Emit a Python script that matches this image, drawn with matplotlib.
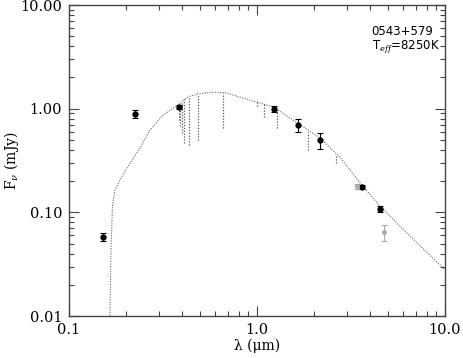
# -*- coding: utf-8 -*-
"""SED van 0543+579 met model en photometrie."""

import matplotlib
matplotlib.use("Agg")
import matplotlib.pyplot as plt
from matplotlib.ticker import LogLocator, NullFormatter

# modelspectrum (continuum), golflengte in micron, flux in mJy
model_lam = [0.1650, 0.1673, 0.1704, 0.1757, 0.1867, 0.2035, 0.2386, 0.2697,
             0.3162, 0.380, 0.4295, 0.4856, 0.5763, 0.6757, 0.918, 1.231,
             1.673, 2.164, 2.764, 3.618, 4.511, 6.513, 9.9]
model_flux = [0.009, 0.0433, 0.1176, 0.164, 0.205, 0.267, 0.417, 0.622,
              0.867, 1.083, 1.30, 1.39, 1.44, 1.43, 1.21, 1.036,
              0.710, 0.521, 0.341, 0.183, 0.115, 0.0591, 0.0285]

# absorptielijnen (Balmer, Paschen, Brackett): top en bodem van de lijn
lijn_lam = [0.3835, 0.3889, 0.3970, 0.4102, 0.4340, 0.4861, 0.6563,
            1.005, 1.094, 1.282, 1.875, 2.626]
lijn_top = [1.06, 1.10, 1.16, 1.23, 1.31, 1.39, 1.43,
            1.21, 1.12, 0.98, 0.60, 0.35]
lijn_bodem = [0.78, 0.68, 0.58, 0.466, 0.446, 0.498, 0.650,
              1.06, 0.83, 0.650, 0.399, 0.30]

# photometrie (zwart)
fot_lam = [0.152, 0.224, 0.385, 1.235, 1.66, 2.16, 3.62, 4.51]
fot_flux = [0.058, 0.887, 1.03, 0.99, 0.695, 0.498, 0.175, 0.108]
fot_err = [0.0054, 0.082, 0.046, 0.069, 0.099, 0.09, 0.008, 0.0075]

# photometrie (grijs)
grijs_lam = [3.40, 4.74]
grijs_flux = [0.179, 0.0646]
grijs_err = [0.010, 0.0117]

plt.rcParams['font.family'] = ['DejaVu Serif']
plt.rcParams['mathtext.fontset'] = 'dejavuserif'

fig = plt.figure(figsize=(4.63, 3.58), dpi=100)
ax = fig.add_axes([0.149, 0.1173, 0.812, 0.8687])

# model als stippellijn
ax.plot(model_lam, model_flux, color='#666666', ls=(0, (1, 1.3)), lw=0.8)
ax.vlines(lijn_lam, lijn_bodem, lijn_top, color='#555555',
          linestyles=(0, (1, 1.3)), lw=0.9)

# meetpunten
ax.errorbar(fot_lam, fot_flux, yerr=fot_err, fmt='o', color='black',
            ms=3.5, elinewidth=0.8, capsize=2.5, capthick=0.8)
ax.errorbar(grijs_lam, grijs_flux, yerr=grijs_err, fmt='o', color='#aaaaaa',
            ms=2.5, elinewidth=0.8, capsize=2.5, capthick=0.8)

ax.set_xscale('log')
ax.set_yscale('log')
ax.set_xlim(0.1, 10.0)
ax.set_ylim(0.01, 10.0)

ax.set_xticks([0.1, 1.0, 10.0], ['0.1', '1.0', '10.0'])
ax.set_yticks([0.01, 0.1, 1.0, 10.0], ['0.01', '0.10', '1.00', '10.00'])
ax.xaxis.set_minor_locator(LogLocator(base=10, subs=range(2, 10)))
ax.yaxis.set_minor_locator(LogLocator(base=10, subs=range(2, 10)))
ax.xaxis.set_minor_formatter(NullFormatter())
ax.yaxis.set_minor_formatter(NullFormatter())

ax.tick_params(which='both', direction='in', top=True, right=True,
               color='#444444', width=0.8, labelsize=10.5)
ax.tick_params(which='major', length=7, pad=5)
ax.tick_params(which='minor', length=3.5)
for s in ax.spines.values():
    s.set_color('#444444')
    s.set_linewidth(1.0)

ax.set_xlabel('\u03bb (\u03bcm)', fontsize=10, labelpad=1)
ax.set_ylabel(r'F$_{\nu}$ (mJy)', fontsize=10)
ax.yaxis.set_label_coords(-0.128, 0.5)

ax.text(0.805, 0.905, '0543+579', transform=ax.transAxes,
        fontsize=8.5, family='DejaVu Sans')
ax.text(0.805, 0.858, r'T$_{\mathit{eff}}$=8250K', transform=ax.transAxes,
        fontsize=8.5, family='DejaVu Sans')

plt.savefig('out.png', dpi=100)
